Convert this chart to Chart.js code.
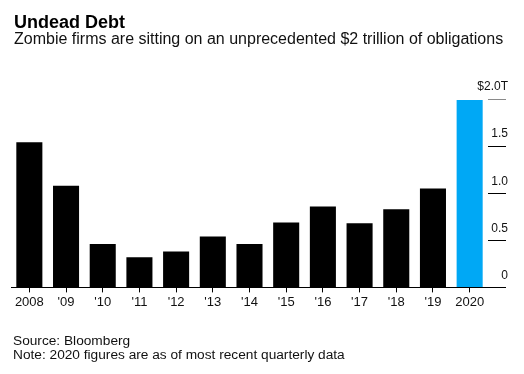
<!DOCTYPE html>
<html>
<head>
<meta charset="utf-8">
<script src="https://cdn.jsdelivr.net/npm/chart.js@4/dist/chart.umd.min.js"></script>
<style>
    body { margin: 0; background: #fff; font-family: "Liberation Sans", Arial, Helvetica, sans-serif; }
    #wrap { position: absolute; left: 0; top: 0; width: 524px; height: 374px; }
    .txt { position: absolute; left: 14px; white-space: nowrap; color: #111; }
    #title { top: 13px; font-size: 18px; line-height: 18px; font-weight: bold; color: #000; }
    #subtitle { top: 30.5px; font-size: 16px; line-height: 16px; }
    #source { top: 333.5px; font-size: 13.7px; line-height: 14px; left: 13px; }
</style>
</head>
<body>
<div id="wrap"><canvas id="chart"></canvas></div>
<div id="title" class="txt">Undead Debt</div>
<div id="subtitle" class="txt">Zombie firms are sitting on an unprecedented $2 trillion of obligations</div>
<div id="source" class="txt">Source: Bloomberg<br>Note: 2020 figures are as of most recent quarterly data</div>
<script>
// values, trillions of dollars
const years = ["2008", "'09", "'10", "'11", "'12", "'13", "'14", "'15", "'16", "'17", "'18", "'19", "2020"]
const debt = [1.54, 1.08, 0.46, 0.32, 0.38, 0.54, 0.46, 0.69, 0.86, 0.68, 0.83, 1.05, 1.99]
const yTicks = [0, 0.5, 1.0, 1.5, 2.0]

const barColors = years.map(y => y == "2020" ? "#00a8f5" : "#000000")

function tickLabel(v) {
    if (v == 0) return "0"
    if (v == 2) return "$2.0T"
    return v.toFixed(1)
}

const ctx = document.querySelector("#chart")

new Chart(ctx, {
    type: "bar",
    data: {
        labels: years,
        datasets: [{
            data: debt,
            backgroundColor: barColors,
            borderWidth: 0,
            barPercentage: 0.71,
            categoryPercentage: 1.0
        }]
    },
    options: {
        responsive: true,
        maintainAspectRatio: false,
        animation: false,
        layout: {
            padding: { left: 11, right: 16, top: 99, bottom: 62 }
        },
        plugins: {
            legend: { display: false },
            tooltip: { enabled: false }
        },
        scales: {
            x: {
                grid: {
                    offset: false,
                    drawOnChartArea: false,
                    drawTicks: true,
                    tickLength: 5,
                    color: "#000"
                },
                border: { display: true, color: "#000", width: 1 },
                ticks: {
                    color: "#111",
                    padding: 2,
                    maxRotation: 0,
                    autoSkip: false,
                    font: { family: "'Liberation Sans', Arial", size: 13 }
                }
            },
            y: {
                position: "right",
                min: 0,
                max: 2,
                afterBuildTicks: axis => {
                    axis.ticks = yTicks.map(v => ({ value: v }))
                },
                afterFit: axis => {
                    axis.width = 20
                    // labels sit over the tick marks and run a bit past the axis box, so no clipping
                    axis._computeLabelArea = () => null
                },
                grid: {
                    drawOnChartArea: false,
                    drawTicks: true,
                    tickLength: 18,
                    color: c => (c.tick && c.tick.value == 2) ? "#8a8a8a" : "#000"
                },
                border: { display: false },
                ticks: {
                    color: "#111",
                    crossAlign: "far",
                    padding: -28.7,
                    labelOffset: -12,
                    callback: v => tickLabel(v),
                    font: { family: "'Liberation Sans', Arial", size: 12 }
                }
            }
        }
    }
})
</script>
</body>
</html>
